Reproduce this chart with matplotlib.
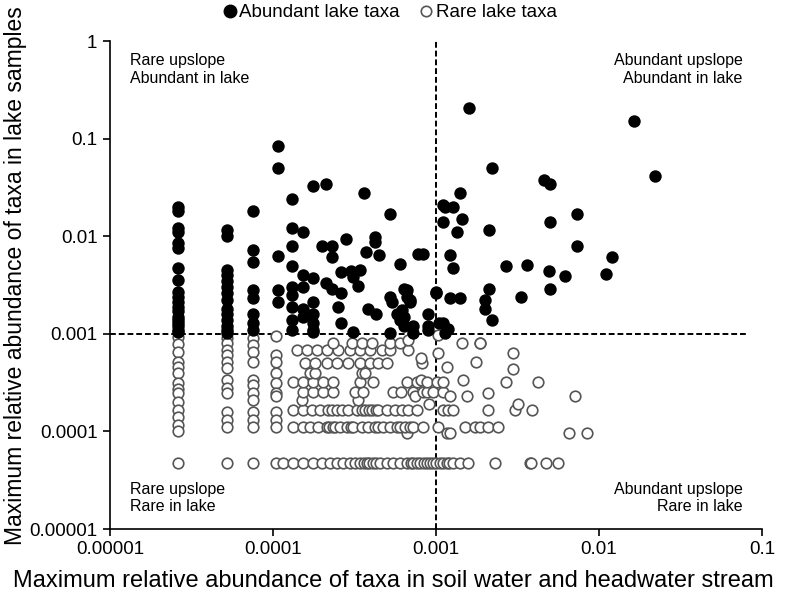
import matplotlib
matplotlib.use("Agg")
import matplotlib.pyplot as plt
from matplotlib.lines import Line2D

plt.rcParams['font.family'] = ['Liberation Sans', 'DejaVu Sans']

# Abundant lake taxa (filled)
abundant_x = [
    2.6e-5, 2.6e-5, 2.6e-5, 2.6e-5, 2.6e-5, 2.6e-5, 2.6e-5, 2.6e-5, 2.6e-5, 2.6e-5,
    2.6e-5, 2.6e-5, 2.6e-5, 2.6e-5, 2.6e-5, 2.6e-5, 2.6e-5, 2.6e-5, 2.6e-5,
    5.2e-5, 5.2e-5, 5.2e-5, 5.2e-5, 5.2e-5, 5.2e-5, 5.2e-5, 5.2e-5, 5.2e-5, 5.2e-5,
    5.2e-5, 5.2e-5, 5.2e-5, 5.2e-5,
    7.5e-5, 7.5e-5, 7.5e-5, 7.5e-5, 7.5e-5, 7.5e-5, 7.5e-5, 7.5e-5,
    1.07e-4, 1.07e-4, 1.07e-4, 1.07e-4, 1.07e-4,
    1.3e-4, 1.3e-4, 1.3e-4, 1.3e-4, 1.3e-4, 1.3e-4, 1.3e-4, 1.3e-4, 1.3e-4,
    1.53e-4, 1.53e-4, 1.53e-4, 1.53e-4, 1.53e-4,
    1.76e-4, 1.76e-4, 1.76e-4, 1.76e-4, 1.76e-4, 1.76e-4, 1.76e-4,
    2.0e-4, 2.1e-4, 2.1e-4, 2.3e-4, 2.3e-4, 2.3e-4, 2.5e-4,
    2.6e-4, 2.6e-4, 2.6e-4, 2.8e-4, 3.0e-4, 3.1e-4, 3.1e-4, 3.3e-4, 3.4e-4,
    3.6e-4, 3.7e-4, 3.8e-4, 4.2e-4, 4.2e-4, 4.3e-4, 4.5e-4,
    5.2e-4, 5.2e-4, 5.2e-4, 5.4e-4, 5.75e-4, 6.0e-4, 6.0e-4, 6.2e-4,
    6.4e-4, 6.4e-4, 6.4e-4, 6.6e-4, 6.6e-4, 6.9e-4, 6.9e-4, 7.2e-4, 7.2e-4,
    7.8e-4, 8.3e-4, 8.9e-4, 8.9e-4, 8.9e-4, 1.0e-3, 1.0e-3, 1.05e-3,
    1.1e-3, 1.1e-3, 1.1e-3, 1.13e-3, 1.13e-3, 1.18e-3, 1.22e-3, 1.22e-3,
    1.28e-3, 1.28e-3, 1.35e-3, 1.4e-3, 1.4e-3, 1.45e-3, 1.6e-3,
    2.0e-3, 2.0e-3, 2.1e-3, 2.1e-3, 2.2e-3, 2.2e-3, 2.7e-3, 3.3e-3, 3.6e-3,
    4.6e-3, 4.9e-3, 5.0e-3, 5.0e-3, 5.0e-3, 6.2e-3, 7.3e-3, 7.3e-3,
    1.1e-2, 1.2e-2, 1.63e-2, 2.2e-2,
]
abundant_y = [
    0.02, 0.018, 0.012, 0.011, 0.0085, 0.0075, 0.0047, 0.0036, 0.0027, 0.0024,
    0.0021, 0.0019, 0.0017, 0.0015, 0.0014, 0.0013, 0.0012, 0.0011, 0.00105,
    0.0115, 0.010, 0.0045, 0.004, 0.0035, 0.003, 0.0026, 0.0022, 0.0018, 0.0016,
    0.0014, 0.0012, 0.0011, 0.00102,
    0.018, 0.0072, 0.0055, 0.0028, 0.0023, 0.0016, 0.0013, 0.0011,
    0.084, 0.05, 0.0062, 0.0028, 0.0021,
    0.024, 0.012, 0.0079, 0.0049, 0.003, 0.0025, 0.0019, 0.0014, 0.0011,
    0.011, 0.004, 0.003, 0.0018, 0.0015,
    0.033, 0.0037, 0.0021, 0.0016, 0.0013, 0.0011, 0.00105,
    0.0079, 0.034, 0.0033, 0.0079, 0.0061, 0.0029, 0.0019,
    0.0043, 0.0026, 0.0013, 0.0093, 0.0044, 0.0038, 0.00105, 0.0031, 0.0045,
    0.028, 0.0069, 0.0018, 0.0098, 0.0088, 0.0016, 0.0064,
    0.017, 0.0024, 0.00102, 0.0021, 0.0016, 0.0052, 0.0014, 0.00175,
    0.0029, 0.0015, 0.0012, 0.0024, 0.0028, 0.0021, 0.0022, 0.0012, 0.00102,
    0.0066, 0.0066, 0.0016, 0.0012, 0.0011, 0.0026, 0.0027, 0.0013,
    0.021, 0.014, 0.0013, 0.02, 0.00102, 0.00113, 0.0064, 0.0023,
    0.02, 0.0047, 0.011, 0.028, 0.0023, 0.015, 0.206,
    0.0022, 0.0018, 0.0115, 0.0029, 0.05, 0.0014, 0.0049, 0.0024, 0.0051,
    0.038, 0.0044, 0.034, 0.014, 0.0029, 0.0039, 0.017, 0.0079,
    0.0041, 0.0061, 0.15, 0.041,
]

# Rare lake taxa (open)
rare_x = [
    # four lowest upslope abundance columns
    2.6e-5, 2.6e-5, 2.6e-5, 2.6e-5, 2.6e-5, 2.6e-5, 2.6e-5, 2.6e-5, 2.6e-5, 2.6e-5,
    2.6e-5, 2.6e-5, 2.6e-5, 2.6e-5, 2.6e-5,
    5.2e-5, 5.2e-5, 5.2e-5, 5.2e-5, 5.2e-5, 5.2e-5, 5.2e-5, 5.2e-5, 5.2e-5, 5.2e-5,
    5.2e-5, 5.2e-5, 5.2e-5,
    7.5e-5, 7.5e-5, 7.5e-5, 7.5e-5, 7.5e-5, 7.5e-5, 7.5e-5, 7.5e-5, 7.5e-5, 7.5e-5,
    7.5e-5, 7.5e-5,
    1.05e-4, 1.05e-4, 1.05e-4, 1.05e-4, 1.05e-4, 1.05e-4, 1.05e-4, 1.05e-4, 1.05e-4,
    1.05e-4, 1.05e-4,
    # row ~4.7e-5
    1.15e-4, 1.33e-4, 1.53e-4, 1.76e-4, 2.0e-4, 2.24e-4, 2.47e-4, 2.69e-4, 2.97e-4,
    3.2e-4, 3.42e-4, 3.6e-4, 3.77e-4, 3.9e-4, 4.11e-4, 4.3e-4, 4.53e-4, 5.0e-4,
    5.45e-4, 6.0e-4, 6.64e-4, 7.0e-4, 7.2e-4, 7.6e-4, 8.0e-4, 8.4e-4, 8.8e-4,
    9.2e-4, 9.6e-4, 1.0e-3, 1.06e-3, 1.1e-3, 1.17e-3, 1.2e-3, 1.27e-3, 1.4e-3,
    1.57e-3, 2.3e-3, 3.78e-3, 3.8e-3, 4.73e-3, 5.6e-3,
    # row ~9.7e-5
    6.64e-4, 1.17e-3, 1.22e-3, 6.5e-3, 8.4e-3,
    # row ~1.1e-4
    1.33e-4, 1.53e-4, 1.69e-4, 1.89e-4, 2.14e-4, 2.2e-4, 2.33e-4, 2.4e-4, 2.58e-4,
    2.84e-4, 3.0e-4, 3.1e-4, 3.52e-4, 3.83e-4, 4.22e-4, 4.4e-4, 4.73e-4, 5.22e-4,
    5.76e-4, 6.0e-4, 6.45e-4, 6.92e-4, 7.2e-4, 8.3e-4, 1.03e-3, 1.51e-3, 1.73e-3,
    1.86e-3, 2.08e-3, 2.4e-3,
    # row ~1.66e-4
    1.33e-4, 1.53e-4, 1.73e-4, 1.94e-4, 2.17e-4, 2.3e-4, 2.47e-4, 2.65e-4, 2.88e-4,
    3.28e-4, 3.5e-4, 3.67e-4, 3.9e-4, 4.05e-4, 4.3e-4, 4.41e-4, 5.0e-4, 5.6e-4,
    6.18e-4, 6.73e-4, 7.6e-4, 1.1e-3, 1.19e-3, 1.27e-3, 2.08e-3, 3.05e-3, 3.88e-3,
    # row ~2e-4
    1.51e-4, 3.32e-4, 9.1e-4, 3.18e-3,
    # row ~2.5e-4
    1.53e-4, 1.76e-4, 2.03e-4, 2.33e-4, 3.18e-4, 3.56e-4, 5.45e-4, 6.1e-4, 7.2e-4,
    7.4e-4, 8.3e-4, 8.8e-4, 9.6e-4, 1.1e-3, 1.22e-3, 1.55e-3, 2.08e-3, 7.1e-3,
    # row ~3.2e-4
    1.33e-4, 1.53e-4, 1.76e-4, 2.03e-4, 2.33e-4, 3.42e-4, 4.11e-4, 6.64e-4, 7.6e-4,
    8.1e-4, 8.8e-4, 1.01e-3, 1.1e-3, 1.47e-3, 2.69e-3, 4.22e-3,
    # row ~4e-4
    1.69e-4, 1.81e-4, 3.52e-4, 3.67e-4,
    # row ~5e-4
    1.57e-4, 1.81e-4, 2.14e-4, 2.47e-4, 2.88e-4, 3.42e-4, 3.94e-4, 4.41e-4, 5.0e-4,
    8.2e-4, 1.17e-3, 1.76e-3, 2.97e-3,
    # row ~6.8e-4
    1.4e-4, 1.62e-4, 1.86e-4, 2.14e-4, 2.51e-4, 2.97e-4, 3.42e-4, 3.94e-4, 4.66e-4,
    5.22e-4, 6.73e-4, 8.1e-4, 1.03e-3, 2.97e-3,
    # row ~8e-4
    2.33e-4, 3.05e-4, 3.52e-4, 4.05e-4, 5.22e-4, 6.0e-4, 6.73e-4, 1.03e-3, 1.45e-3,
    1.86e-3, 1.87e-3,
]
rare_y = [
    9.2e-4, 7.9e-4, 6.5e-4, 5.1e-4, 4.6e-4, 4.0e-4, 3.1e-4, 2.7e-4, 2.5e-4, 2.0e-4,
    1.65e-4, 1.4e-4, 1.15e-4, 1.0e-4, 4.7e-5,
    9.0e-4, 8.1e-4, 6.9e-4, 6.1e-4, 5.1e-4, 4.5e-4, 3.4e-4, 2.8e-4, 2.5e-4, 1.58e-4,
    1.3e-4, 1.1e-4, 4.7e-5,
    9.0e-4, 7.7e-4, 6.5e-4, 5.1e-4, 3.4e-4, 3.0e-4, 2.5e-4, 2.1e-4, 1.58e-4, 1.3e-4,
    1.1e-4, 4.7e-5,
    9.5e-4, 6.1e-4, 5.1e-4, 4.0e-4, 3.1e-4, 2.5e-4, 2.3e-4, 1.58e-4, 1.3e-4,
    1.1e-4, 4.7e-5,
    4.7e-5, 4.7e-5, 4.7e-5, 4.7e-5, 4.7e-5, 4.7e-5, 4.7e-5, 4.7e-5, 4.7e-5,
    4.7e-5, 4.7e-5, 4.7e-5, 4.7e-5, 4.7e-5, 4.7e-5, 4.7e-5, 4.7e-5, 4.7e-5,
    4.7e-5, 4.7e-5, 4.7e-5, 4.7e-5, 4.7e-5, 4.7e-5, 4.7e-5, 4.7e-5, 4.7e-5,
    4.7e-5, 4.7e-5, 4.7e-5, 4.7e-5, 4.7e-5, 4.7e-5, 4.7e-5, 4.7e-5, 4.7e-5,
    4.7e-5, 4.7e-5, 4.7e-5, 4.7e-5, 4.7e-5, 4.7e-5,
    9.7e-5, 9.7e-5, 9.7e-5, 9.7e-5, 9.7e-5,
    1.1e-4, 1.1e-4, 1.1e-4, 1.1e-4, 1.1e-4, 1.1e-4, 1.1e-4, 1.1e-4, 1.1e-4,
    1.1e-4, 1.1e-4, 1.1e-4, 1.1e-4, 1.1e-4, 1.1e-4, 1.1e-4, 1.1e-4, 1.1e-4,
    1.1e-4, 1.1e-4, 1.1e-4, 1.1e-4, 1.1e-4, 1.1e-4, 1.1e-4, 1.1e-4, 1.1e-4,
    1.1e-4, 1.1e-4, 1.1e-4,
    1.66e-4, 1.66e-4, 1.66e-4, 1.66e-4, 1.66e-4, 1.66e-4, 1.66e-4, 1.66e-4, 1.66e-4,
    1.66e-4, 1.66e-4, 1.66e-4, 1.66e-4, 1.66e-4, 1.66e-4, 1.66e-4, 1.66e-4, 1.66e-4,
    1.66e-4, 1.66e-4, 1.66e-4, 1.66e-4, 1.66e-4, 1.66e-4, 1.66e-4, 1.66e-4, 1.66e-4,
    2.1e-4, 2.1e-4, 1.9e-4, 1.9e-4,
    2.53e-4, 2.53e-4, 2.53e-4, 2.53e-4, 2.53e-4, 2.53e-4, 2.53e-4, 2.53e-4, 2.53e-4,
    2.3e-4, 2.53e-4, 2.53e-4, 2.53e-4, 2.53e-4, 2.3e-4, 2.3e-4, 2.5e-4, 2.3e-4,
    3.2e-4, 3.2e-4, 3.2e-4, 3.2e-4, 3.2e-4, 3.2e-4, 3.2e-4, 3.2e-4, 3.2e-4,
    3.4e-4, 3.2e-4, 3.2e-4, 3.2e-4, 3.4e-4, 3.2e-4, 3.2e-4,
    4.0e-4, 4.0e-4, 4.0e-4, 4.0e-4,
    5.0e-4, 5.0e-4, 5.0e-4, 5.0e-4, 5.0e-4, 5.0e-4, 5.0e-4, 5.0e-4, 5.0e-4,
    5.0e-4, 4.6e-4, 5.1e-4, 4.4e-4,
    6.8e-4, 6.8e-4, 6.8e-4, 6.8e-4, 6.8e-4, 6.8e-4, 6.8e-4, 6.8e-4, 6.8e-4,
    6.8e-4, 6.8e-4, 5.6e-4, 6.3e-4, 6.3e-4,
    8.0e-4, 8.0e-4, 8.0e-4, 8.0e-4, 8.0e-4, 8.0e-4, 8.6e-4, 9.7e-4, 8.0e-4,
    8.0e-4, 8.0e-4,
]

quadrant_labels = [
    "Rare upslope\nAbundant in lake",
    "Abundant upslope\nAbundant in lake",
    "Rare upslope\nRare in lake",
    "Abundant upslope\nRare in lake",
]

fig = plt.figure(figsize=(7.87, 5.97), dpi=100)
ax = fig.add_axes([110 / 787, 68 / 597, 652 / 787, 488 / 597])
ax.set_xscale("log")
ax.set_yscale("log")
ax.set_xlim(1e-5, 0.1)
ax.set_ylim(1e-5, 1)

# threshold lines
ax.plot([1e-3, 1e-3], [1e-5, 1], ls=(0, (3, 1.5)), color="black", lw=1.4, zorder=1)
ax.plot([1e-5, 0.08], [1e-3, 1e-3], ls=(0, (3, 1.5)), color="black", lw=1.4, zorder=1)

ax.scatter(rare_x, rare_y, s=58, facecolors="white", edgecolors="#555555",
           linewidths=1.2, zorder=2, clip_on=False)
ax.scatter(abundant_x, abundant_y, s=80, color="black", linewidths=0, zorder=3)

for sp in ["top", "right"]:
    ax.spines[sp].set_visible(False)
for sp in ["left", "bottom"]:
    ax.spines[sp].set_linewidth(1.2)
ax.minorticks_off()
ax.set_xticks([1e-5, 1e-4, 1e-3, 1e-2, 1e-1])
ax.set_xticklabels(["0.00001", "0.0001", "0.001", "0.01", "0.1"])
ax.set_yticks([1e-5, 1e-4, 1e-3, 1e-2, 1e-1, 1])
ax.set_yticklabels(["0.00001", "0.0001", "0.001", "0.01", "0.1", "1"])
ax.tick_params(direction="out", length=5, width=1.2, labelsize=13.5, pad=4)

ax.set_xlabel("Maximum relative abundance of taxa in soil water and headwater stream",
              fontsize=17)
ax.set_ylabel("Maximum relative abundance of taxa in lake samples", fontsize=16.5)
ax.xaxis.set_label_coords(0.434, -0.085)
ax.yaxis.set_label_coords(-0.128, 0.52)

tkw = dict(fontsize=11.5, transform=ax.transAxes, linespacing=1.2)
ax.text(0.03, 0.975, quadrant_labels[0], ha="left", va="top", **tkw)
ax.text(0.970, 0.975, quadrant_labels[1], ha="right", va="top", **tkw)
ax.text(0.03, 0.03, quadrant_labels[2], ha="left", va="bottom", **tkw)
ax.text(0.970, 0.03, quadrant_labels[3], ha="right", va="bottom", **tkw)

handles = [
    Line2D([], [], ls="none", marker="o", markersize=9, color="black"),
    Line2D([], [], ls="none", marker="o", markersize=7.5, markerfacecolor="white",
           markeredgecolor="#555555", markeredgewidth=1.2),
]
fig.legend(handles, ["Abundant lake taxa", "Rare lake taxa"], loc="center",
           bbox_to_anchor=(0.495, 0.979), ncol=2, frameon=False, fontsize=13.5,
           handletextpad=0.1, columnspacing=1.0, handlelength=0.8)

fig.savefig("out.png", dpi=100)
